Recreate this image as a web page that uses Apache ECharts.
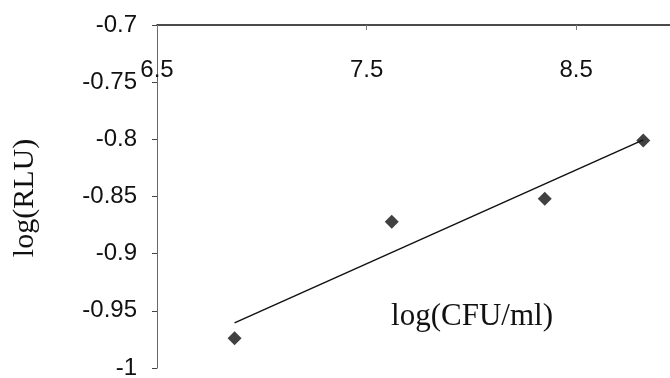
<!DOCTYPE html>
<html>
<head>
<meta charset="utf-8">
<script src="https://cdn.jsdelivr.net/npm/echarts@6/dist/echarts.min.js"></script>
<style>
  html, body { margin: 0; padding: 0; background: #fff; }
  #chart { width: 670px; height: 378px; }
</style>
</head>
<body>
<div id="chart"></div>
<script>
// measured points, log(CFU/ml) vs log(RLU)
var xVals = [6.87, 7.62, 8.35, 8.82]
var yVals = [-0.974, -0.872, -0.852, -0.801]
var xTicks = [6.5, 7.5, 8.5]
var yTicks = [-0.7, -0.75, -0.8, -0.85, -0.9, -0.95, -1]

// least squares trend line through the points
function fit(xs, ys){
    var n = xs.length, mx = 0, my = 0
    for (var i = 0; i < n; i++){ mx += xs[i]; my += ys[i] }
    mx = mx / n; my = my / n
    var sxy = 0, sxx = 0
    for (var j = 0; j < n; j++){
        sxy += (xs[j] - mx) * (ys[j] - my)
        sxx += (xs[j] - mx) * (xs[j] - mx)
    }
    var b = sxy / sxx
    return function(x){ return my + b * (x - mx) }
}
var f = fit(xVals, yVals)
var xFirst = xVals[0], xLast = xVals[xVals.length - 1]
var trend = [[xFirst, f(xFirst)], [xLast, f(xLast)]]

var pts = xVals.map(function(v, i){ return [v, yVals[i]] })

var myChart = echarts.init(document.getElementById('chart'))
myChart.setOption({
    backgroundColor: '#fff',
    animation: false,
    grid: {
        left: 157,
        top: 25,
        right: -11,
        bottom: 10,
        containLabel: false,
        outerBoundsMode: 'none'
    },
    xAxis: {
        type: 'value',
        position: 'top',
        min: 6.5,
        max: 9,
        interval: 1,
        axisLine: { show: true, onZero: false, lineStyle: { color: '#111', width: 1.5 } },
        axisTick: { show: true, inside: true, length: 5, lineStyle: { color: '#777' } },
        axisLabel: {
            inside: true,
            margin: 33,
            showMaxLabel: false,
            color: '#111',
            fontFamily: 'Liberation Sans',
            fontSize: 24,
            formatter: function(v){ return xTicks.indexOf(v) >= 0 ? String(v) : '' }
        },
        splitLine: { show: false }
    },
    yAxis: {
        type: 'value',
        min: -1,
        max: -0.7,
        interval: 0.05,
        axisLine: { show: true, onZero: false, lineStyle: { color: '#666', width: 1 } },
        axisTick: { show: true, length: 5, lineStyle: { color: '#444' } },
        axisLabel: {
            margin: 20,
            color: '#111',
            fontFamily: 'Liberation Sans',
            fontSize: 24,
            formatter: function(v){
                var r = Math.round(v * 100) / 100
                return yTicks.indexOf(r) >= 0 ? String(r) : ''
            }
        },
        splitLine: { show: false }
    },
    graphic: [
        {
            type: 'text',
            x: 25,
            y: 198,
            rotation: Math.PI / 2,
            style: {
                text: 'log(RLU)',
                font: '30px "Liberation Serif"',
                fill: '#111',
                textAlign: 'center',
                textVerticalAlign: 'middle'
            }
        },
        {
            type: 'text',
            x: 472,
            y: 317,
            style: {
                text: 'log(CFU/ml)',
                font: '31px "Liberation Serif"',
                fill: '#111',
                textAlign: 'center',
                textVerticalAlign: 'middle'
            }
        }
    ],
    series: [
        {
            name: 'trend',
            type: 'line',
            data: trend,
            symbol: 'none',
            lineStyle: { color: '#111', width: 1.5 },
            z: 2
        },
        {
            name: 'points',
            type: 'scatter',
            data: pts,
            symbol: 'diamond',
            symbolSize: 14,
            itemStyle: { color: '#111' },
            z: 3
        }
    ]
})
</script>
</body>
</html>
